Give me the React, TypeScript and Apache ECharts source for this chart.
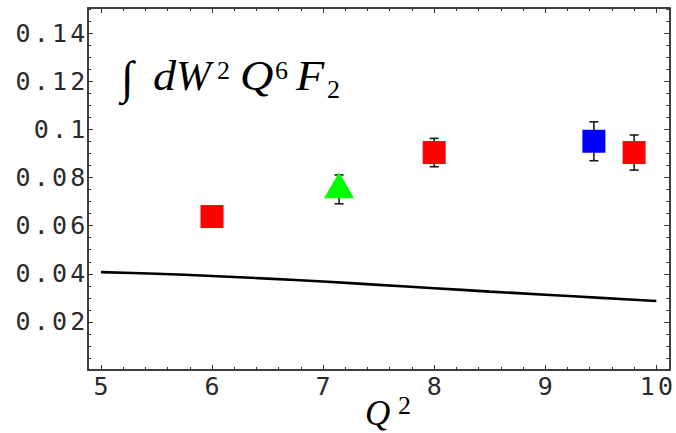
import React, { useEffect, useRef } from 'react';
import * as echarts from 'echarts';

// ---- data ----
const redX = [6, 8, 9.8];
const redY = [0.0638, 0.0904, 0.0904];
const redErr = [0, 0.0059, 0.0073];
const greenX = [7.144];
const greenY = [0.0751];
const greenErr = [0.006];
const blueX = [9.438];
const blueY = [0.0951];
const blueErr = [0.0081];
const curveX = [5, 5.5, 6, 6.5, 7, 7.5, 8, 8.5, 9, 9.5, 10];
const curveY = [0.0407, 0.04, 0.0391, 0.038, 0.0368, 0.0354, 0.034, 0.0326, 0.0313, 0.03, 0.0287];
const xTickValues = [5, 6, 7, 8, 9, 10];
const xTickLabels = ['5', '6', '7', '8', '9', '10'];
const yTickValues = [0.02, 0.04, 0.06, 0.08, 0.1, 0.12, 0.14];
const yTickLabels = ['0.02', '0.04', '0.06', '0.08', '0.1', '0.12', '0.14'];

const X_MIN = 4.8835;
const X_MAX = 10.1165;
const Y_MIN = 0;
const Y_MAX = 0.1505;

const xMinor: number[] = [];
for (let i = 0; i <= 25; i++) xMinor.push(+(5 + i * 0.2).toFixed(3));
const yMinor: number[] = [];
for (let i = 0; i <= 30; i++) yMinor.push(+(i * 0.005).toFixed(4));

const FRAME = '#333333';
const LABEL = '#2a2a2a';
const MONO = '"DejaVu Sans Mono", monospace';
const SERIF = '"Liberation Serif", "DejaVu Serif", serif';

const spaced = (s: string) => s.split('').map((c) => '{c|' + c + '}').join('');
const rich = { c: { width: 18.3, align: 'center', fontFamily: MONO, fontSize: 25, color: LABEL } };

function xAxis(pos: string, ticks: number[], len: number, labels: boolean) {
  return {
    type: 'value', gridIndex: 0, position: pos, min: X_MIN, max: X_MAX,
    axisLine: { show: true, onZero: false, lineStyle: { color: FRAME, width: 1.5 } },
    axisTick: { show: true, inside: true, length: len, customValues: ticks, lineStyle: { color: FRAME, width: 1 } },
    axisLabel: labels
      ? {
          show: true, customValues: xTickValues, margin: 4, color: LABEL, fontFamily: MONO, fontSize: 25,
          formatter: (v: number) => {
            const i = xTickValues.findIndex((t) => Math.abs(t - v) < 1e-9);
            return i < 0 ? '' : spaced(xTickLabels[i]);
          },
          rich,
        }
      : { show: false },
    splitLine: { show: false },
  };
}

function yAxis(pos: string, ticks: number[], len: number, labels: boolean) {
  return {
    type: 'value', gridIndex: 0, position: pos, min: Y_MIN, max: Y_MAX,
    axisLine: { show: true, onZero: false, lineStyle: { color: FRAME, width: 1.5 } },
    axisTick: { show: true, inside: true, length: len, customValues: ticks, lineStyle: { color: FRAME, width: 1 } },
    axisLabel: labels
      ? {
          show: true, customValues: yTickValues, margin: 1, color: LABEL, fontFamily: MONO, fontSize: 25,
          formatter: (v: number) => {
            const i = yTickValues.findIndex((t) => Math.abs(t - v) < 1e-9);
            return i < 0 ? '' : spaced(yTickLabels[i]);
          },
          rich,
        }
      : { show: false },
    splitLine: { show: false },
  };
}

const errRows = (xs: number[], ys: number[], es: number[]) =>
  xs.map((x, i) => [x, ys[i], es[i]]).filter((r) => r[2] > 0);

export default function App() {
  const ref = useRef<HTMLDivElement>(null);
  useEffect(() => {
    if (!ref.current) return;
    const chart = echarts.init(ref.current, undefined, { renderer: 'svg' });
    const t = (text: string, x: number, y: number, size: number, italic: boolean, sx = 1) => ({
      type: 'text', x, y, scaleX: sx, silent: true,
      style: {
        text, fontSize: size, fontFamily: SERIF, fontStyle: italic ? 'italic' : 'normal',
        fill: '#000', textAlign: 'left', textVerticalAlign: 'middle',
      },
    });
    chart.setOption({
      animation: false,
      backgroundColor: '#ffffff',
      grid: { left: 88, right: 4, top: 8, bottom: 63, containLabel: false },
      xAxis: [
        xAxis('bottom', xTickValues, 5, true),
        xAxis('bottom', xMinor, 3, false),
        xAxis('top', xTickValues, 5, false),
        xAxis('top', xMinor, 3, false),
      ],
      yAxis: [
        yAxis('left', yTickValues, 5, true),
        yAxis('left', yMinor, 3, false),
        yAxis('right', yTickValues, 5, false),
        yAxis('right', yMinor, 3, false),
      ],
      series: [
        {
          type: 'line', xAxisIndex: 0, yAxisIndex: 0, showSymbol: false, smooth: 0.3, silent: true,
          data: curveX.map((x, i) => [x, curveY[i]]),
          lineStyle: { color: '#000', width: 2.6 }, z: 2,
        },
        {
          type: 'custom', xAxisIndex: 0, yAxisIndex: 0, silent: true, z: 3,
          data: [
            ...errRows(redX, redY, redErr),
            ...errRows(greenX, greenY, greenErr),
            ...errRows(blueX, blueY, blueErr),
          ],
          encode: { x: 0, y: 1 },
          renderItem: (params: any, api: any) => {
            const x = api.value(0), y = api.value(1), e = api.value(2);
            const top = api.coord([x, y + e]);
            const bot = api.coord([x, y - e]);
            const hw = 4.5;
            const st = { stroke: '#1a1a1a', lineWidth: 1.6 };
            return {
              type: 'group',
              children: [
                { type: 'line', shape: { x1: top[0], y1: top[1], x2: bot[0], y2: bot[1] }, style: st },
                { type: 'line', shape: { x1: top[0] - hw, y1: top[1], x2: top[0] + hw, y2: top[1] }, style: st },
                { type: 'line', shape: { x1: bot[0] - hw, y1: bot[1], x2: bot[0] + hw, y2: bot[1] }, style: st },
              ],
            };
          },
        },
        {
          type: 'scatter', xAxisIndex: 0, yAxisIndex: 0, silent: true, z: 4,
          symbol: 'rect', symbolSize: 23, itemStyle: { color: '#ff0000', opacity: 1 },
          data: redX.map((x, i) => [x, redY[i]]),
        },
        {
          type: 'scatter', xAxisIndex: 0, yAxisIndex: 0, silent: true, z: 4,
          symbol: 'rect', symbolSize: 23, itemStyle: { color: '#0000ff', opacity: 1 },
          data: blueX.map((x, i) => [x, blueY[i]]),
        },
        {
          type: 'scatter', xAxisIndex: 0, yAxisIndex: 0, silent: true, z: 4,
          symbol: 'triangle', symbolSize: [30, 26], symbolOffset: [0, -4], itemStyle: { color: '#00ff00', opacity: 1 },
          data: greenX.map((x, i) => [x, greenY[i]]),
        },
      ],
      graphic: [
        t('∫', 121, 77, 46, false),
        t('d', 153, 76, 42, true, 1.1),
        t('W', 176, 76, 42, true),
        t('2', 217, 70, 26, false),
        t('Q', 240, 76, 42, true, 1.1),
        t('6', 275, 70, 26, false),
        t('F', 296, 76, 42, true, 1.1),
        t('2', 327, 89, 26, false),
        t('Q', 365, 413, 35, true),
        t('2', 398, 405, 26, false),
      ],
    });
    return () => chart.dispose();
  }, []);
  return <div ref={ref} style={{ position: 'fixed', left: 0, top: 0, width: 676, height: 433, background: '#fff' }} />;
}
